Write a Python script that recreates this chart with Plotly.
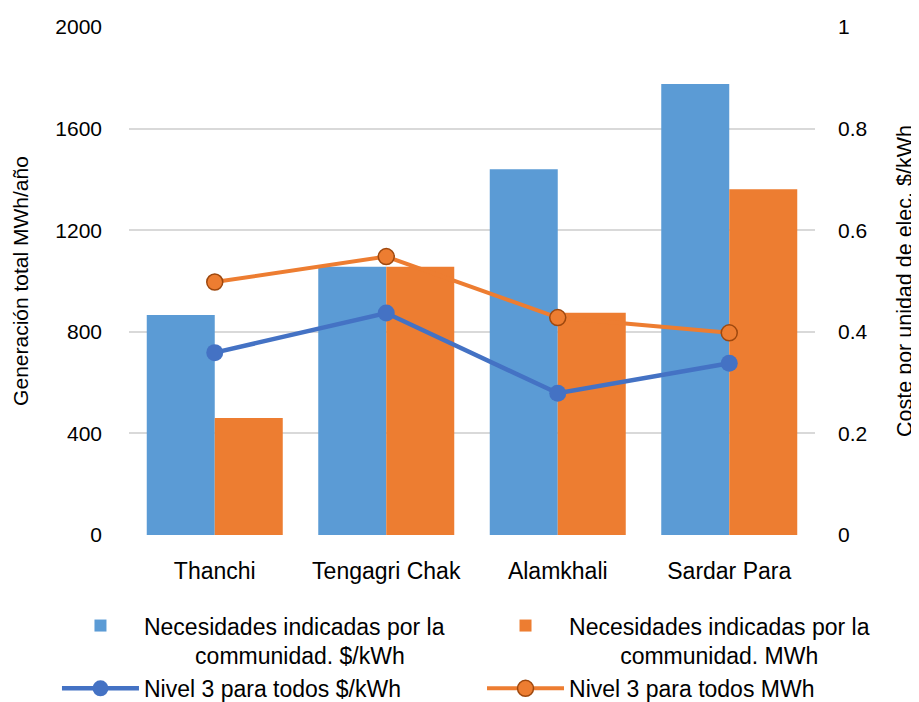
import plotly.graph_objects as go

categories = ["Thanchi", "Tengagri Chak", "Alamkhali", "Sardar Para"]
bar_kwh_cost = [866, 1056, 1440, 1776]
bar_mwh = [461, 1056, 875, 1361]
line_cost = [0.359, 0.437, 0.279, 0.338]
line_mwh = [0.498, 0.548, 0.428, 0.398]

names = [
    "Necesidades indicadas por la<br>" + "\u00a0" * 8 + "communidad. $/kWh",
    "Necesidades indicadas por la<br>" + "\u00a0" * 8 + "communidad. MWh",
    "Nivel 3 para todos $/kWh",
    "Nivel 3 para todos MWh",
]

FONT = "Liberation Sans, Arial, sans-serif"
BLUE_BAR = "#5B9BD5"
ORANGE = "#ED7D31"
BLUE_LINE = "#4472C4"

fig = go.Figure()
fig.add_trace(go.Bar(x=categories, y=bar_kwh_cost, name=names[0], legend="legend",
                     marker=dict(color=BLUE_BAR, line=dict(width=0))))
fig.add_trace(go.Bar(x=categories, y=bar_mwh, name=names[1], legend="legend2",
                     marker=dict(color=ORANGE, line=dict(width=0))))
fig.add_trace(go.Scatter(x=categories, y=line_cost, name=names[2], yaxis="y2",
                         legend="legend", mode="lines+markers",
                         line=dict(color=BLUE_LINE, width=4.5),
                         marker=dict(size=17, color=BLUE_LINE)))
fig.add_trace(go.Scatter(x=categories, y=line_mwh, name=names[3], yaxis="y2",
                         legend="legend2", mode="lines+markers",
                         line=dict(color=ORANGE, width=4),
                         marker=dict(size=16, color=ORANGE,
                                     line=dict(color="#9E480E", width=1.5))))

legend_style = dict(orientation="v", xanchor="left", y=-0.136, yanchor="top",
                    itemwidth=77, font=dict(size=23), valign="top",
                    traceorder="normal", bgcolor="rgba(0,0,0,0)", borderwidth=0)

fig.update_layout(
    width=911, height=694,
    margin=dict(l=121, r=104, t=19, b=167, autoexpand=False),
    paper_bgcolor="white", plot_bgcolor="white",
    font=dict(family=FONT, size=20, color="#000000"),
    barmode="group", bargap=0.207, bargroupgap=0,
    xaxis=dict(showgrid=False, showline=False, ticks="", tickfont=dict(size=23),
               ticklabelstandoff=20),
    yaxis=dict(range=[0, 2000], dtick=400, showgrid=True, gridcolor="#D9D9D9",
               gridwidth=1.5, zeroline=False, showline=False, ticks="",
               tickfont=dict(size=21), ticklabelstandoff=26,
               title=dict(text="Generación total MWh/año", font=dict(size=21),
                          standoff=20)),
    yaxis2=dict(range=[0, 1], dtick=0.2, overlaying="y", side="right",
                showgrid=False, zeroline=False, showline=False, ticks="",
                tickfont=dict(size=21), ticklabelstandoff=22,
                title=dict(text="Coste por unidad de elec. $/kWh", font=dict(size=21.5),
                           standoff=30)),
    legend=dict(x=-0.105, **legend_style),
    legend2=dict(x=0.5146, **legend_style),
    showlegend=True,
)

fig.write_html("out.html")
